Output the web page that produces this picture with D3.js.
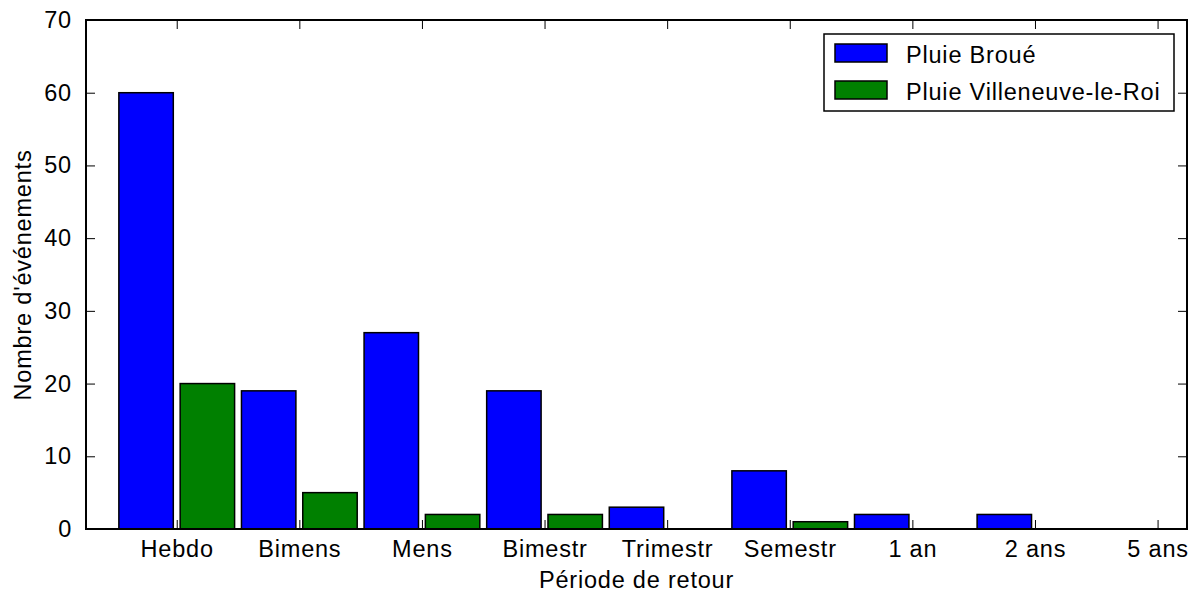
<!DOCTYPE html>
<html><head><meta charset="utf-8">
<script src="https://cdn.jsdelivr.net/npm/d3@7"></script>
<style>
html,body{margin:0;padding:0;background:#fff;}
text{font-family:"Liberation Sans",Arial,sans-serif;fill:#000;letter-spacing:0.8px;}
</style></head>
<body>
<svg id="chart" width="1194" height="597"></svg>
<script>
const categories = ["Hebdo","Bimens","Mens","Bimestr","Trimestr","Semestr","1 an","2 ans","5 ans"];
const broue = [60,19,27,19,3,8,2,2,0];
const villeneuve = [20,5,2,2,0,1,0,0,0];
const seriesNames = ["Pluie Broué","Pluie Villeneuve-le-Roi"];
const seriesColors = ["#0000ff","#008000"];
const yTicks = [0,10,20,30,40,50,60,70];

const svg = d3.select("#chart");
const L=86, R=1187, T=20, B=529;
const FS = 23.5;
const x = d3.scaleLinear().domain([-0.74, 8.24]).range([L, R]);
const y = d3.scaleLinear().domain([0, 70]).range([B, T]);

// bars
const series = [broue, villeneuve];
const offsets = [[-0.472,-0.028],[0.028,0.472]];
series.forEach((vals, s) => {
  svg.append("g").selectAll("rect").data(vals).join("rect")
    .attr("x", (d,i) => x(i + offsets[s][0]))
    .attr("width", x(offsets[s][1]) - x(offsets[s][0]))
    .attr("y", d => y(d))
    .attr("height", d => y(0) - y(d))
    .attr("fill", seriesColors[s])
    .attr("stroke", "#000")
    .attr("stroke-width", 1.5);
});

// axes with inward ticks
const tickLen = 9;
const yAxisL = d3.axisLeft(y).tickValues(yTicks).tickSize(-tickLen).tickPadding(tickLen + 5).tickFormat(d3.format("d"));
const yAxisR = d3.axisRight(y).tickValues(yTicks).tickSize(-tickLen).tickFormat("");
const xAxisB = d3.axisBottom(x).tickValues(d3.range(categories.length)).tickSize(-tickLen).tickPadding(tickLen + 2).tickFormat(i => categories[i]);
const xAxisT = d3.axisTop(x).tickValues(d3.range(categories.length)).tickSize(-tickLen).tickFormat("");

function style(g){
  g.select(".domain").remove();
  g.selectAll(".tick line").attr("stroke","#000").attr("stroke-width",1);
  g.selectAll(".tick text").attr("font-size", FS).attr("font-family","Liberation Sans, Arial, sans-serif").attr("fill","#000");
}
svg.append("g").attr("transform",`translate(${L},0)`).call(yAxisL).call(style);
svg.append("g").attr("transform",`translate(${R},0)`).call(yAxisR).call(style);
svg.append("g").attr("transform",`translate(0,${B})`).call(xAxisB).call(style);
svg.append("g").attr("transform",`translate(0,${T})`).call(xAxisT).call(style);

// frame
svg.append("rect").attr("x",L).attr("y",T).attr("width",R-L).attr("height",B-T)
  .attr("fill","none").attr("stroke","#000").attr("stroke-width",2);

// axis labels
svg.append("text").attr("x",(L+R)/2).attr("y",588).attr("text-anchor","middle")
  .attr("font-size",FS).text("Période de retour");
svg.append("text").attr("transform","translate(31,275) rotate(-90)").attr("text-anchor","middle")
  .attr("font-size",FS).text("Nombre d'événements");

// legend
const lg = svg.append("g");
lg.append("rect").attr("x",824).attr("y",34).attr("width",350).attr("height",77)
  .attr("fill","#fff").attr("stroke","#000").attr("stroke-width",1.5);
seriesNames.forEach((n,k) => {
  const yy = 44 + k*37;
  lg.append("rect").attr("x",835).attr("y",yy).attr("width",52).attr("height",18)
    .attr("fill",seriesColors[k]).attr("stroke","#000").attr("stroke-width",1.5);
  lg.append("text").attr("x",906).attr("y",yy+19).attr("font-size",FS).text(n);
});
</script>
</body></html>
